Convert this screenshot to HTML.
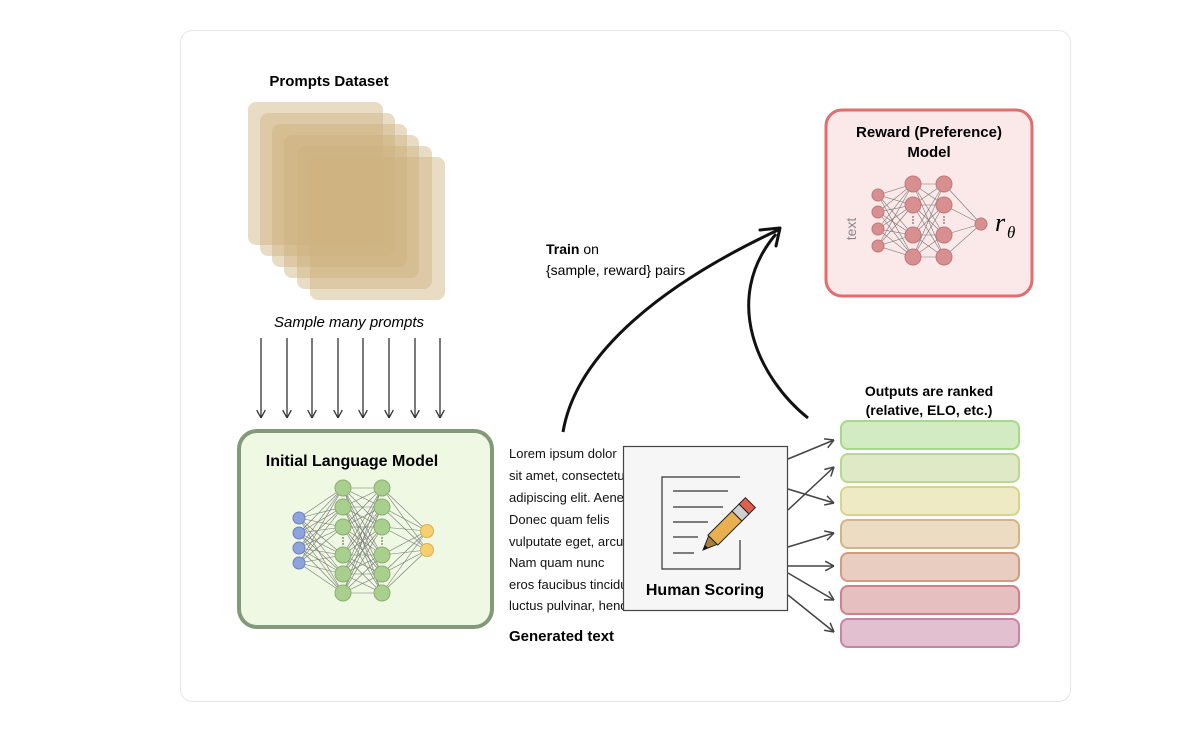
<!DOCTYPE html>
<html><head><meta charset="utf-8"><style>
html,body{margin:0;padding:0;background:#fff;}
svg{display:block;font-family:"Liberation Sans",Arial,sans-serif;}
</style></head><body>
<svg id="s" width="1200" height="749" viewBox="0 0 1200 749" xmlns="http://www.w3.org/2000/svg">
<rect x="180.5" y="30.5" width="890" height="671" rx="12" fill="#fff" stroke="#e6e6e6"/>
<text x="329" y="86" font-size="15" font-weight="bold" text-anchor="middle">Prompts Dataset</text>
<g fill="#cfb17e" fill-opacity="0.45">
<rect x="248" y="102" width="135" height="143" rx="8"/>
<rect x="260" y="113" width="135" height="143" rx="8"/>
<rect x="272" y="124" width="135" height="143" rx="8"/>
<rect x="284" y="135" width="135" height="143" rx="8"/>
<rect x="297" y="146" width="135" height="143" rx="8"/>
<rect x="310" y="157" width="135" height="143" rx="8"/>
</g>
<text x="349" y="327" font-size="15" font-style="italic" text-anchor="middle">Sample many prompts</text>
<g id="down" stroke="#333" stroke-width="1.3" fill="none"></g>
<rect x="239" y="431" width="253" height="196" rx="18" fill="#eef8e2" stroke="#829a78" stroke-width="4"/>
<text x="352" y="466" font-size="16" font-weight="bold" text-anchor="middle">Initial Language Model</text>
<g id="ilm"></g>
<rect x="826" y="110" width="206" height="186" rx="16" fill="#fbe9e9" stroke="#e46c6c" stroke-width="3"/>
<text x="929" y="137" font-size="15" font-weight="bold" text-anchor="middle">Reward (Preference)</text>
<text x="929" y="157" font-size="15" font-weight="bold" text-anchor="middle">Model</text>
<text x="856" y="229" font-size="14" fill="#888" text-anchor="middle" transform="rotate(-90 856 229)">text</text>
<g id="rm"></g>
<text x="995" y="231" font-size="26" font-style="italic" font-family="Liberation Serif,serif">r</text>
<text x="1007" y="238" font-size="17" font-style="italic" font-family="Liberation Serif,serif">θ</text>
<path d="M563 432 C575 360 650 290 778 230" stroke="#111" stroke-width="3" fill="none"/>
<path d="M808 418 C760 380 720 300 776 234" stroke="#111" stroke-width="3" fill="none"/>
<path d="M760 230 L780 228 L776 246" stroke="#111" stroke-width="3" fill="none" stroke-linecap="round" stroke-linejoin="round"/>
<text x="546" y="254" font-size="14"><tspan font-weight="bold">Train</tspan> on</text>
<text x="546" y="275" font-size="14">{sample, reward} pairs</text>
<g font-size="13" fill="#111">
<text x="509" y="458">Lorem ipsum dolor</text>
<text x="509" y="480">sit amet, consectetur</text>
<text x="509" y="502">adipiscing elit. Aenean</text>
<text x="509" y="524">Donec quam felis</text>
<text x="509" y="546">vulputate eget, arcu</text>
<text x="509" y="567">Nam quam nunc</text>
<text x="509" y="589">eros faucibus tincidunt</text>
<text x="509" y="610">luctus pulvinar, hendrerit</text>
</g>
<text x="509" y="641" font-size="15" font-weight="bold">Generated text</text>
<rect x="623.5" y="446.5" width="164" height="164" fill="#f6f6f6" stroke="#444" stroke-width="1.2"/>
<path d="M740 477 L662 477 L662 569 L740 569 L740 540" stroke="#333" stroke-width="1.2" fill="none"/>
<g stroke="#333" stroke-width="1.2"><line x1="673" y1="491" x2="728" y2="491"/><line x1="673" y1="507" x2="723" y2="507"/><line x1="673" y1="522" x2="708" y2="522"/><line x1="673" y1="537" x2="698" y2="537"/><line x1="673" y1="553" x2="694" y2="553"/></g>
<g transform="translate(703 550) rotate(-45)">
<polygon points="0,0 14,-6 14,6" fill="#a58040" stroke="#222" stroke-width="1"/>
<polygon points="0,0 5,-2 5,2" fill="#111"/>
<rect x="14" y="-7" width="34" height="14" fill="#e8b050" stroke="#222" stroke-width="1"/>
<rect x="48" y="-7" width="10" height="14" fill="#d0d0d0" stroke="#222" stroke-width="1"/>
<rect x="58" y="-7" width="9" height="14" fill="#e0604c" stroke="#222" stroke-width="1"/>
</g>
<text x="705" y="595" font-size="16" font-weight="bold" text-anchor="middle">Human Scoring</text>
<text x="929" y="396" font-size="14" font-weight="bold" text-anchor="middle">Outputs are ranked</text>
<text x="929" y="415" font-size="14" font-weight="bold" text-anchor="middle">(relative, ELO, etc.)</text>
<g stroke-width="2">
<rect x="841" y="421" width="178" height="28" rx="7" fill="#d2ebc3" stroke="#a6d98a"/>
<rect x="841" y="454" width="178" height="28" rx="7" fill="#dfe9c6" stroke="#b8d98e"/>
<rect x="841" y="487" width="178" height="28" rx="7" fill="#eeeac4" stroke="#d8d48a"/>
<rect x="841" y="520" width="178" height="28" rx="7" fill="#ebdcc2" stroke="#d4b486"/>
<rect x="841" y="553" width="178" height="28" rx="7" fill="#e8cdc0" stroke="#d09c84"/>
<rect x="841" y="586" width="178" height="28" rx="7" fill="#e6c0c0" stroke="#d08088"/>
<rect x="841" y="619" width="178" height="28" rx="7" fill="#e3c0d0" stroke="#c884a4"/>
</g>
<g id="outs" stroke="#444" stroke-width="1.5" fill="none"></g>
</svg>
<script>
var NS="http://www.w3.org/2000/svg";
function el(p,t,a){var e=document.createElementNS(NS,t);for(var k in a)e.setAttribute(k,a[k]);p.appendChild(e);return e;}
function arrow(g,x1,y1,x2,y2,h){el(g,"line",{x1:x1,y1:y1,x2:x2,y2:y2});var a=Math.atan2(y2-y1,x2-x1);
for(var s of [-1,1]){var b=a+Math.PI+s*0.5;el(g,"line",{x1:x2,y1:y2,x2:x2+h*Math.cos(b),y2:y2+h*Math.sin(b)});}}
var d=document.getElementById("down");
[261,287,312,338,363,389,415,440].forEach(function(x){arrow(d,x,338,x,418,9);});
var o=document.getElementById("outs");
[[788,459,834,440],[788,489,834,503],[788,510,834,467],[788,547,834,533],[788,566,834,566],[788,573,834,600],[788,595,834,632]].forEach(function(a){arrow(o,a[0],a[1],a[2],a[3],10);});
function net(g,layers,cols,edge){
for(var i=0;i<layers.length-1;i++){var A=layers[i],B=layers[i+1];A.n.forEach(function(ya){B.n.forEach(function(yb){el(g,"line",{x1:A.x,y1:ya,x2:B.x,y2:yb,stroke:edge,"stroke-width":0.6});});});}
layers.forEach(function(L,i){L.n.forEach(function(y){el(g,"circle",{cx:L.x,cy:y,r:L.r,fill:L.f,stroke:L.s,"stroke-width":1});});
if(L.dots){for(var k=0;k<3;k++)el(g,"circle",{cx:L.x,cy:L.dots+k*3,r:0.7,fill:"#333"});}});}
var h=[488,507,527,555,574,593];
net(document.getElementById("ilm"),[
{x:299,n:[518,533,548,563],r:6,f:"#8fa3dc",s:"#6a80c0"},
{x:343,n:h,r:8,f:"#a9cf8e",s:"#8ab070",dots:538},
{x:382,n:h,r:8,f:"#a9cf8e",s:"#8ab070",dots:538},
{x:427,n:[531,550],r:6.5,f:"#f6d070",s:"#d8b050"}],0,"#777");
var r=[184,205,235,257];
net(document.getElementById("rm"),[
{x:878,n:[195,212,229,246],r:6,f:"#d88f8f",s:"#c07878"},
{x:913,n:r,r:8,f:"#d88f8f",s:"#c07878",dots:217},
{x:944,n:r,r:8,f:"#d88f8f",s:"#c07878",dots:217},
{x:981,n:[224],r:6,f:"#d88f8f",s:"#c07878"}],0,"#777");
</script>
</body></html>
